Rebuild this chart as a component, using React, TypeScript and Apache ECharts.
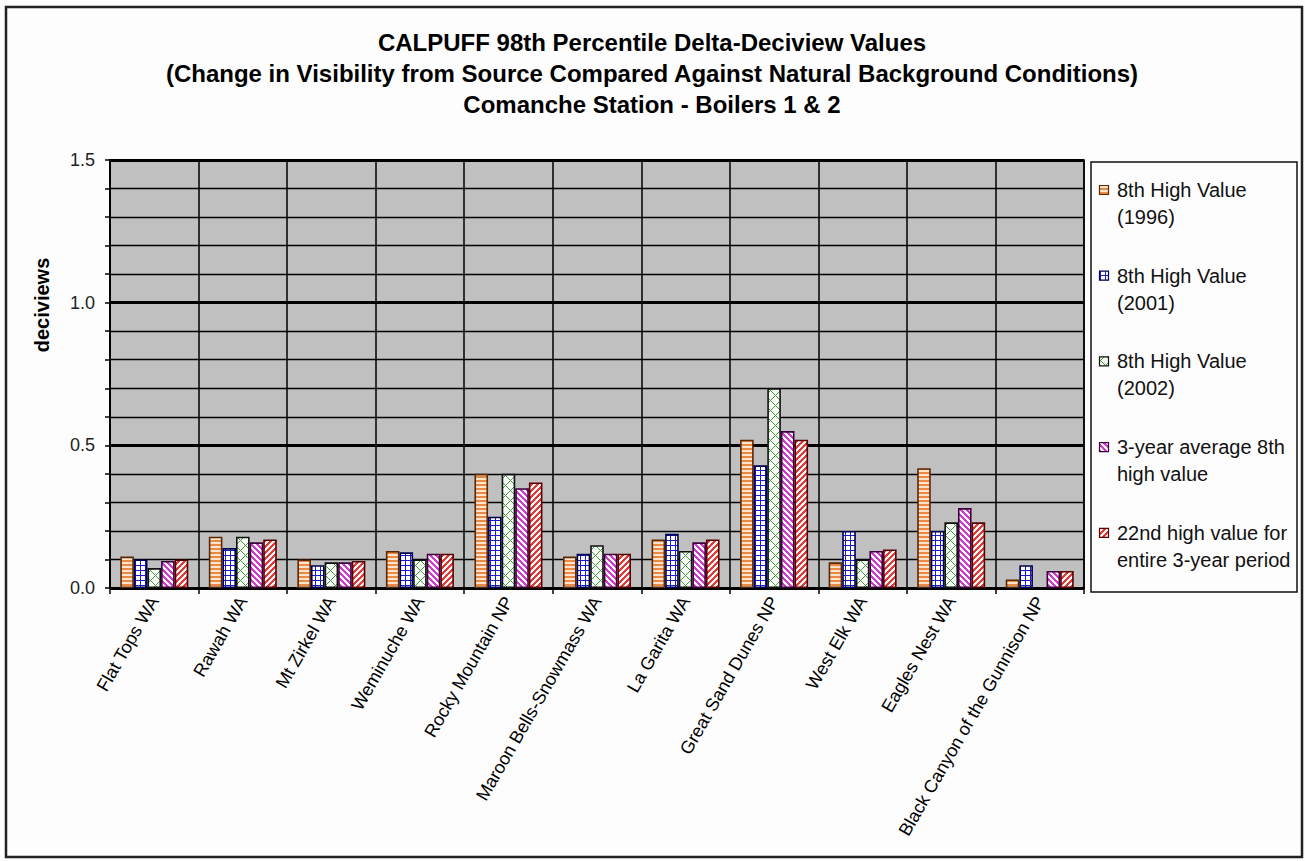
import React, { useEffect, useRef } from "react";
import * as echarts from "echarts";

const titleLines = [
  "CALPUFF 98th Percentile Delta-Deciview Values",
  "(Change in Visibility from Source Compared Against Natural Background Conditions)",
  "Comanche Station - Boilers 1 & 2",
];
const yAxisName = "deciviews";
const categories = [
  "Flat Tops WA",
  "Rawah WA",
  "Mt Zirkel WA",
  "Weminuche WA",
  "Rocky Mountain NP",
  "Maroon Bells-Snowmass WA",
  "La Garita WA",
  "Great Sand Dunes NP",
  "West Elk WA",
  "Eagles Nest WA",
  "Black Canyon of the Gunnison NP",
];
const seriesNames = [
  "8th High Value (1996)",
  "8th High Value (2001)",
  "8th High Value (2002)",
  "3-year average 8th high value",
  "22nd high value for entire 3-year period",
];
const legendLines = [
  ["8th High Value", "(1996)"],
  ["8th High Value", "(2001)"],
  ["8th High Value", "(2002)"],
  ["3-year average 8th", "high value"],
  ["22nd high value for", "entire 3-year period"],
];
const high1996 = [0.11, 0.18, 0.1, 0.13, 0.4, 0.11, 0.17, 0.52, 0.09, 0.42, 0.03];
const high2001 = [0.1, 0.14, 0.08, 0.125, 0.25, 0.12, 0.19, 0.43, 0.2, 0.2, 0.08];
const high2002 = [0.07, 0.18, 0.09, 0.1, 0.4, 0.15, 0.13, 0.7, 0.1, 0.23, null];
const avg3yr = [0.095, 0.16, 0.09, 0.12, 0.35, 0.12, 0.16, 0.55, 0.13, 0.28, 0.06];
const high22nd = [0.1, 0.17, 0.095, 0.12, 0.37, 0.12, 0.17, 0.52, 0.135, 0.23, 0.06];
const seriesValues = [high1996, high2001, high2002, avg3yr, high22nd];
const yTickLabels = ["0.0", "0.5", "1.0", "1.5"];
const yMin = 0;
const yMax = 1.5;
const yMinorStep = 0.1;
const yMajorStep = 0.5;

const FONT = "'Liberation Sans', Arial, sans-serif";

function makeTile(
  w: number,
  h: number,
  bg: string,
  fg: string,
  test: (x: number, y: number) => boolean
) {
  const c = document.createElement("canvas");
  c.width = w;
  c.height = h;
  const ctx = c.getContext("2d")!;
  ctx.fillStyle = bg;
  ctx.fillRect(0, 0, w, h);
  ctx.fillStyle = fg;
  for (let x = 0; x < w; x++) {
    for (let y = 0; y < h; y++) {
      if (test(x, y)) ctx.fillRect(x, y, 1, 1);
    }
  }
  return { image: c, repeat: "repeat", imageWidth: w, imageHeight: h } as any;
}

export default function App() {
  const ref = useRef<HTMLDivElement>(null);

  useEffect(() => {
    if (!ref.current) return;
    const chart = echarts.init(ref.current, undefined, { renderer: "svg" });

    const patterns = [
      makeTile(4, 4, "#fde4cc", "#e88a45", (x, y) => y % 4 < 2),
      makeTile(5, 5, "#ffffff", "#1c1cc8", (x, y) => x % 5 === 0 || y % 5 === 0),
      makeTile(10, 10, "#f6fbf4", "#4a944a", (x, y) => (x + y) % 10 === 0 || (x - y + 10) % 10 === 0),
      makeTile(6, 6, "#ffffff", "#d23ad2", (x, y) => (((x - y) % 6) + 6) % 6 < 3),
      makeTile(6, 6, "#fff6f6", "#e03a3a", (x, y) => (x + y) % 6 < 3),
    ];
    const borders = ["#5a2806", "#000050", "#111111", "#3d003d", "#5a0000"];

    const graphics: any[] = [
      {
        type: "rect",
        shape: { x: 6, y: 7, width: 1296, height: 850 },
        style: { fill: "none", stroke: "#222", lineWidth: 2.5 },
        z: 100,
      },
      {
        type: "rect",
        shape: { x: 1091, y: 162, width: 206, height: 430 },
        style: { fill: "#fdfdfd", stroke: "#111", lineWidth: 1.5 },
        z: 50,
      },
      {
        type: "text",
        x: 42,
        y: 305,
        rotation: Math.PI / 2,
        z: 60,
        style: {
          text: yAxisName,
          fontSize: 20,
          fontWeight: "bold",
          fontFamily: FONT,
          fill: "#000",
          align: "center",
          verticalAlign: "middle",
        },
      },
    ];
    titleLines.forEach((t, i) => {
      graphics.push({
        type: "text",
        x: 652,
        y: 42 + i * 31,
        z: 60,
        style: {
          text: t,
          fontSize: 24,
          fontWeight: "bold",
          fontFamily: FONT,
          fill: "#000",
          align: "center",
          verticalAlign: "middle",
        },
      });
    });
    legendLines.forEach((lines, i) => {
      const cy = 190 + i * 85.7;
      graphics.push({
        type: "rect",
        z: 60,
        shape: { x: 1099.5, y: cy - 4.5, width: 9, height: 9 },
        style: { fill: patterns[i], stroke: borders[i], lineWidth: 1.2 },
      });
      lines.forEach((ln, j) => {
        graphics.push({
          type: "text",
          z: 60,
          x: 1117,
          y: cy + j * 27,
          style: {
            text: ln,
            fontSize: 20,
            fontFamily: FONT,
            fill: "#111",
            verticalAlign: "middle",
            align: "left",
          },
        });
      });
    });

    const option: any = {
      animation: false,
      backgroundColor: "#fdfdfd",
      grid: {
        left: 110,
        right: 221,
        top: 160,
        bottom: 273,
        show: true,
        backgroundColor: "#c0c0c0",
        borderColor: "#000",
        borderWidth: 1.5,
      },
      xAxis: {
        type: "category",
        data: categories,
        axisLine: { lineStyle: { color: "#000", width: 2 } },
        axisTick: { show: true, length: 6, lineStyle: { color: "#000", width: 1.5 } },
        splitLine: { show: true, interval: 0, lineStyle: { color: "#000", width: 1.5 } },
        axisLabel: {
          rotate: 60,
          interval: 0,
          fontSize: 18,
          fontFamily: FONT,
          color: "#000",
          margin: 10,
        },
      },
      yAxis: [
        {
          type: "value",
          min: yMin,
          max: yMax,
          interval: yMinorStep,
          axisLine: { show: true, lineStyle: { color: "#000", width: 2 } },
          axisTick: { show: true, length: 5, lineStyle: { color: "#000", width: 1.5 } },
          splitLine: { show: true, lineStyle: { color: "#000", width: 1.3 } },
          axisLabel: {
            fontSize: 18,
            fontFamily: FONT,
            color: "#222",
            margin: 15,
            formatter: (v: number) => {
              const s = v.toFixed(1);
              return yTickLabels.includes(s) ? s : "";
            },
          },
        },
        {
          type: "value",
          min: yMin,
          max: yMax,
          interval: yMajorStep,
          position: "left",
          axisLine: { show: false },
          axisTick: { show: false },
          axisLabel: { show: false },
          splitLine: { show: true, lineStyle: { color: "#000", width: 3 } },
        },
      ],
      series: seriesValues.map((vals, i) => ({
        type: "bar",
        name: seriesNames[i],
        data: vals,
        yAxisIndex: 0,
        barWidth: 13.6,
        barGap: "0%",
        itemStyle: { color: patterns[i], borderColor: borders[i], borderWidth: 1.6 },
        z: 5,
      })),
      graphic: graphics,
    };
    chart.setOption(option);
    return () => chart.dispose();
  }, []);

  return (
    <div
      ref={ref}
      style={{ position: "fixed", left: 0, top: 0, width: 1305, height: 861 }}
    />
  );
}
